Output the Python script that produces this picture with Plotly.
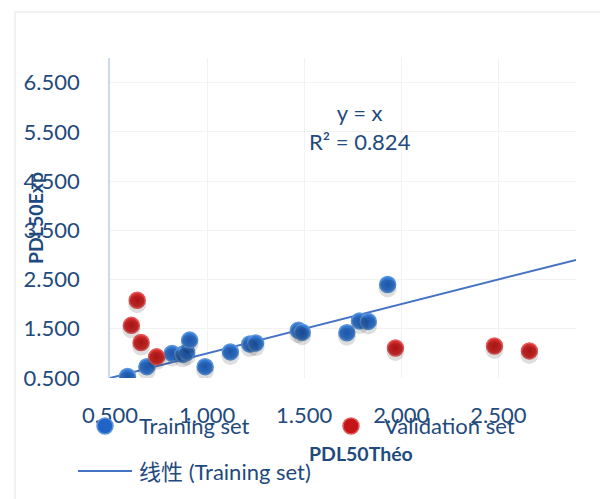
import plotly.graph_objects as go

# ---- data ----
train_x = [0.59, 0.69, 0.82, 0.875, 0.895, 0.91, 0.99, 1.12, 1.22, 1.25, 1.47, 1.49, 1.72, 1.785, 1.83, 1.93]
train_y = [0.53, 0.73, 1.00, 0.98, 1.02, 1.27, 0.73, 1.03, 1.19, 1.21, 1.47, 1.43, 1.42, 1.66, 1.65, 2.40]
valid_x = [0.61, 0.64, 0.66, 0.74, 1.97, 2.48, 2.66]
valid_y = [1.57, 2.08, 1.22, 0.93, 1.11, 1.15, 1.05]
trend_slope = 1.0
trend_intercept = 0.0
x_range = [0.5, 2.9]
y_range = [0.5, 7.0]
x_ticks = [0.5, 1.0, 1.5, 2.0, 2.5]
y_ticks = [0.5, 1.5, 2.5, 3.5, 4.5, 5.5, 6.5]
eq_text = "y = x<br>R² = 0.824"
x_title = "PDL50Théo"
y_title = "PDL50Exp"
names = ["Training set", "Validation set", "线性 (Training set)"]

# ---- layout geometry (pixels) ----
OFF = 8  # page body margin
W, H = 608, 499
PW, PH = 466, 320
L, T = 110 - OFF, 58 - OFF
R, B = W - L - PW, H - T - PH

def px(xp):
    return (xp - OFF - L) / PW

def py(yp):
    return (T + PH - (yp - OFF)) / PH

TXT = "#1F4A7D"
FONT = "Lato, 'Noto Sans CJK SC', sans-serif"
BLUE_EDGE, BLUE_CENTER, BLUE_LINE = "#3A7ED6", "#2063C6", "#5C95DA"
RED_EDGE, RED_CENTER, RED_LINE = "#D83030", "#C41616", "#E35B5B"
TREND = "#4472C4"

fig = go.Figure()

# shadows (drawn on a slightly shifted overlay axis)
shift = 4 / PH * (y_range[1] - y_range[0])
for xs, ys in ((train_x, train_y), (valid_x, valid_y)):
    fig.add_trace(go.Scatter(
        x=xs, y=ys, mode="markers", yaxis="y2", hoverinfo="skip", showlegend=False,
        marker=dict(size=18, color="rgba(0,0,0,0.13)", line=dict(width=0)),
    ))

# trend line
tx = x_range
ty = [trend_slope * v + trend_intercept for v in tx]
fig.add_trace(go.Scatter(x=tx, y=ty, mode="lines", name=names[2], showlegend=False,
                         line=dict(color=TREND, width=2)))

fig.add_trace(go.Scatter(
    x=train_x, y=train_y, mode="markers", name=names[0], showlegend=False,
    marker=dict(size=16, color=BLUE_EDGE, gradient=dict(type="radial", color=BLUE_CENTER),
                line=dict(color=BLUE_LINE, width=1.5)),
))
fig.add_trace(go.Scatter(
    x=valid_x, y=valid_y, mode="markers", name=names[1], showlegend=False,
    marker=dict(size=16, color=RED_EDGE, gradient=dict(type="radial", color=RED_CENTER),
                line=dict(color=RED_LINE, width=1.5)),
))

shapes = [
    # outer chart border (only top/left visible)
    dict(type="rect", xref="paper", yref="paper", x0=px(15), x1=px(640), y0=py(530), y1=py(12),
         line=dict(color="#EEEEEE", width=1.5), layer="below"),
    # legend symbols
    dict(type="circle", xref="paper", yref="paper", xsizemode="pixel", ysizemode="pixel",
         xanchor=px(105), yanchor=py(426), x0=-8, x1=8, y0=-8, y1=8,
         fillcolor=BLUE_CENTER, line=dict(color=BLUE_LINE, width=1.5)),
    dict(type="circle", xref="paper", yref="paper", xsizemode="pixel", ysizemode="pixel",
         xanchor=px(351), yanchor=py(426), x0=-8, x1=8, y0=-8, y1=8,
         fillcolor=RED_CENTER, line=dict(color=RED_LINE, width=1.5)),
    dict(type="line", xref="paper", yref="paper", x0=px(78), x1=px(132), y0=py(471), y1=py(471),
         line=dict(color=TREND, width=2)),
]

annotations = [
    dict(text=eq_text, xref="paper", yref="paper", x=px(360), y=py(127), showarrow=False,
         font=dict(size=22, color=TXT, family=FONT), align="center", xanchor="center", yanchor="middle"),
    dict(text="<b>%s</b>" % x_title, xref="paper", yref="paper", x=px(361), y=py(453), showarrow=False,
         font=dict(size=19.5, color=TXT, family=FONT), xanchor="center", yanchor="middle"),
    dict(text="<b>%s</b>" % y_title, xref="paper", yref="paper", x=px(35), y=py(218), showarrow=False,
         textangle=-90, font=dict(size=19.5, color=TXT, family=FONT), xanchor="center", yanchor="middle"),
    dict(text=names[0], xref="paper", yref="paper", x=px(137), y=py(425), showarrow=False,
         font=dict(size=22, color=TXT, family=FONT), xanchor="left", yanchor="middle"),
    dict(text=names[1], xref="paper", yref="paper", x=px(382), y=py(425), showarrow=False,
         font=dict(size=22, color=TXT, family=FONT), xanchor="left", yanchor="middle"),
    dict(text=names[2], xref="paper", yref="paper", x=px(137), y=py(471), showarrow=False,
         font=dict(size=22, color=TXT, family=FONT), xanchor="left", yanchor="middle"),
]

fig.update_layout(
    width=W, height=H,
    margin=dict(l=L, r=R, t=T, b=B, pad=0),
    paper_bgcolor="white", plot_bgcolor="white",
    showlegend=False,
    font=dict(family=FONT, color=TXT),
    xaxis=dict(range=x_range, tickvals=x_ticks, ticktext=["%.3f" % v for v in x_ticks],
               showgrid=True, gridcolor="#F2F2F2", gridwidth=1, zeroline=False,
               showline=False, ticks="", ticklabelstandoff=22,
               tickfont=dict(size=22, color=TXT, family=FONT), fixedrange=True),
    yaxis=dict(range=y_range, tickvals=y_ticks, ticktext=["%.3f" % v for v in y_ticks],
               showgrid=True, gridcolor="#F2F2F2", gridwidth=1, zeroline=False,
               showline=True, linecolor="#C9DAF0", linewidth=1.5, ticks="", ticklabelstandoff=24,
               tickfont=dict(size=22, color=TXT, family=FONT), fixedrange=True),
    yaxis2=dict(range=[y_range[0] + shift, y_range[1] + shift], overlaying="y", visible=False,
                fixedrange=True),
    shapes=shapes,
    annotations=annotations,
)

fig.write_html("out.html")
